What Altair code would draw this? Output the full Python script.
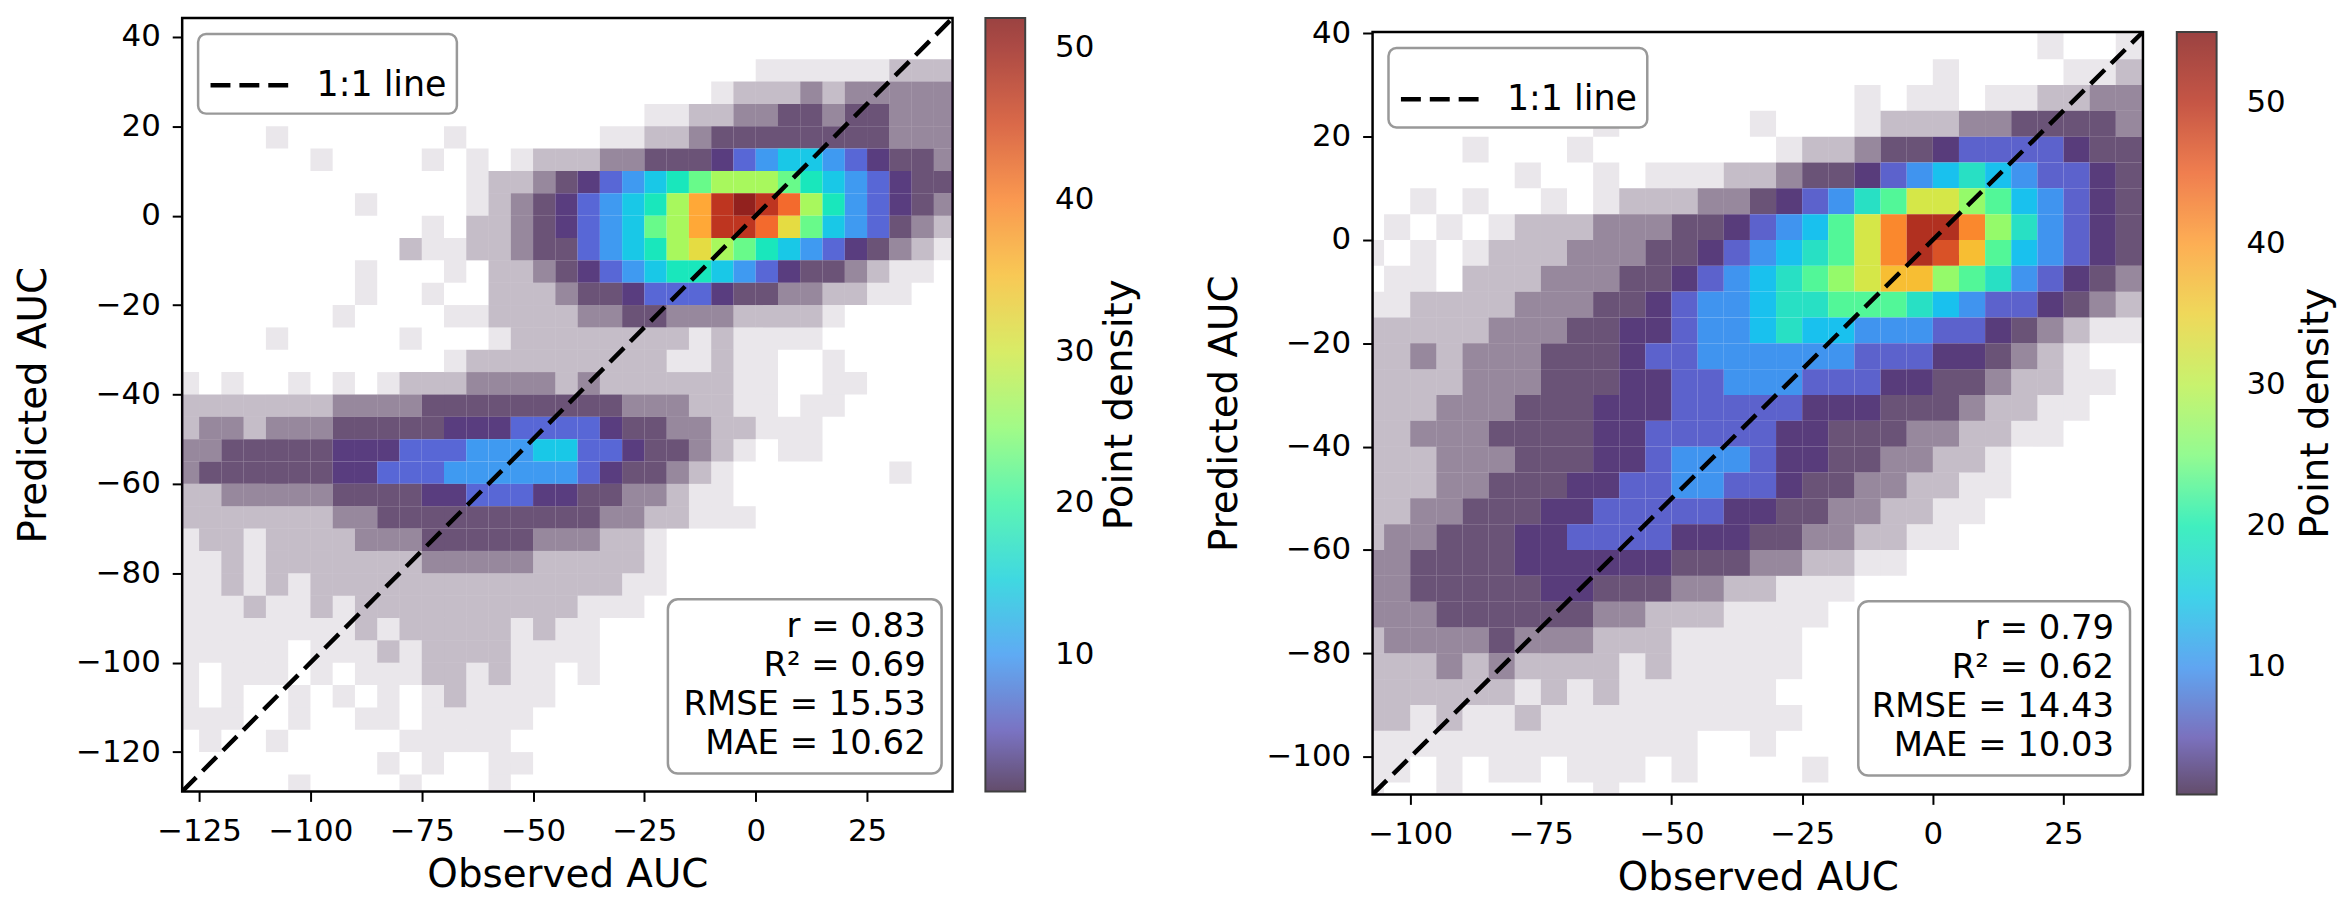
import altair as alt
import pandas as pd

FONT = "DejaVu Sans"
CELL = 5  # width of one density cell, in AUC units

# density level codes (blank = no points)
level_codes = list(".:-=123456789ABC")
level_density = [1, 1, 1, 1.5, 3, 6, 10, 14, 18, 22, 27, 32, 37, 42, 47, 51]
level_cover = [0.1, 0.28, 0.5, 0.74, 0.9, 0.9, 0.9, 0.9, 0.9, 0.9,
               0.9, 0.9, 0.9, 0.9, 0.9, 0.9]

# turbo colour stops (matplotlib-like), evenly spread over the colour bar
turbo_stops = ["#30123b", "#4558d4", "#2f9ef5", "#27d7c3", "#4ef983",
               "#96fa50", "#dfdc32", "#ffa323", "#f45c17", "#b82008",
               "#7a0403"]

# ---------------- left panel ----------------
left_x0 = -130
left_ytop = 45
left_rows = [
    "     " "     " "     " "     " "     " "     " "     ",
    "     " "     " "     " "     " "     " "     " "     ",
    "     " "     " "     " "     " "     " " ...." "..:::",
    "     " "     " "     " "     " "    ." ":::-:" "-----",
    "     " "     " "     " "     " " ..::" "--==-" "==---",
    "    ." "     " "  .  " "    ." ".::-=" "=====" "==---",
    "     " " .   " " . . " ".:::-" "-===1" "23443" "21==-",
    "     " "     " "   .:" ":-=12" "34567" "77654" "321==",
    "     " "   . " "   .:" "-=123" "4579B" "CBA75" "321=-",
    "     " "     " " . ::" "-=123" "4679B" "BA864" "32=-:",
    "     " "     " ":..::" "-==23" "45787" "65432" "1=-:.",
    "     " "   . " "  . :" ":-=12" "34554" "321==" "-:.. ",
    "     " "   . " " .  :" "::-==" "12221" "==--:" ":..  ",
    "     " "  .  " "  ..:" ":::--" "==---" "::::." "     ",
    "    ." "     " ".   ." ":::::" ":::.:" ".... " "     ",
    "     " "     " "  .::" ":::::" "::..:" "..  ." "     ",
    ". .  " ". . ." ":::--" "--:-:" ":::::" "..  ." ".    ",
    ":::::" "::---" "-====" "=====" "---::" ".. .." "     ",
    ":--:-" "--===" "==111" "22221" "==--:" ":... " "     ",
    "--===" "==111" "22233" "34422" "1==-:" ". .. " "     ",
    "-====" "==112" "22333" "33321" "==-:." "     " "  .  ",
    "::---" "--===" "=1122" "211==" "--:.." "     " "     ",
    ":::::" "::--=" "=====" "====-" "-::.." ".    " "     ",
    ".::.:" ":::--" "-====" "=---:" ":.   " "     " "     ",
    "..:.:" ":::::" ":----" "-::::" ":.   " "     " "     ",
    "..:.:" ".::::" ":::::" ":::::" "..   " "     " "     ",
    "...:." ".:.::" ":::::" ":::.." ".    " "     " "     ",
    "....." "...:." ":::::" ".:.. " "     " "     " "     ",
    "....." " ...:" ".::::" ".... " "     " "     " "     ",
    ". ..." " . .." ".::.:" ".. . " "     " "     " "     ",
    ". .  " ". . ." " .:.." "..   " "     " "     " "     ",
    "...  " ".  .." " ...." ".    " "     " "     " "     ",
    " .  ." "     " "....." "     " "     " "     " "     ",
    "     " "    ." " .  ." ".    " "     " "     " "     ",
    "     " ".    " ".   ." "     " "     " "     " "     ",
]
left_x_domain = [-128.8, 44.2]
left_y_domain = [-128.8, 44.2]
left_x_ticks = [-125, -100, -75, -50, -25, 0, 25]
left_y_ticks = [-120, -100, -80, -60, -40, -20, 0, 20, 40]
left_cbar_max = 52
left_stats = ["r = 0.83", "R\u00b2 = 0.69", "RMSE = 15.53", "MAE = 10.62"]

# ---------------- right panel ----------------
right_x0 = -110
right_ytop = 40
right_rows = [
    "     " "     " "     " "     " "     " " .  .",
    "     " "     " "     " "     " "  .  " "  ..:",
    "     " "     " "     " "    ." " .. ." ".::--",
    "     " "    ." "     " ".   ." ":::--" "====-",
    "    ." "   . " "     " " .::-" "==122" "221==",
    "     " " .  ." " ...:" ":-==1" "23454" "3221=",
    "  . ." "  . ." ":::--" "=1235" "68876" "4321=",
    " . . " ".:::-" "--==1" "23468" "ACCA7" "5321=",
    ". . ." ":::--" "-==12" "34568" "ACB96" "4321=",
    " .. :" "::---" "==123" "45678" "99765" "321=-",
    "..:::" ":---=" "=1233" "45566" "65432" "21=-:",
    ":::::" "---==" "11233" "45443" "33221" "=-:..",
    "::-:-" "--===" "12233" "33332" "2211=" "-:.  ",
    "::::-" "--===" "11223" "33222" "11==-" "::.. ",
    ":::--" "-===1" "11222" "22111" "===-:" ":..  ",
    "::---" "====1" "12222" "211==" "=--::" "..   ",
    ":::--" "-===1" "12333" "211==" "--::." "     ",
    ":::--" "===11" "22332" "21==-" "-::.." "     ",
    "::--=" "==112" "22221" "1==--" "::.. " "     ",
    ":--==" "=1122" "22111" "==--:" ":..  " "     ",
    "--===" "=1111" "11===" "--::." ".    " "     ",
    "--===" "==11=" "==--:" ":... " "     " "     ",
    "---==" "====-" "-:::." "...  " "     " "     ",
    ":----" "=---:" "::..." "..   " "     " "     ",
    ":::-:" "-::::" ".:..." "..   " "     " "     ",
    ":::::" ":.:.:" "....." ".    " "     " "     ",
    "::.:." ".:..." "....." "..   " "     " "     ",
    "....." "....." "...  " ".    " "     " "     ",
    ".. . " ".. .." ". .  " "  .  " "     " "     ",
    ".  . " "    ." "     " "     " "     " "     ",
]
right_x_domain = [-107.2, 40.2]
right_y_domain = [-107.3, 40.25]
right_x_ticks = [-100, -75, -50, -25, 0, 25]
right_y_ticks = [-100, -80, -60, -40, -20, 0, 20, 40]
right_cbar_max = 55
right_stats = ["r = 0.79", "R\u00b2 = 0.62", "RMSE = 14.43", "MAE = 10.03"]

cbar_ticks = [10, 20, 30, 40, 50]
cbar_title = "Point density"
line_label = "1:1 line"


def cells(rows, x0, ytop):
    recs = []
    for j, row in enumerate(rows):
        for k, ch in enumerate(row):
            if ch == " ":
                continue
            i = level_codes.index(ch)
            recs.append({
                "x0": x0 + CELL * k, "x1": x0 + CELL * (k + 1),
                "y1": ytop - CELL * j, "y0": ytop - CELL * (j + 1),
                "density": level_density[i], "cover": level_cover[i],
            })
    return pd.DataFrame(recs)


def panel(rows, x0, ytop, xdom, ydom, xticks, yticks, cmax, stats, w, h,
          cb_offset, box, cb_title_x):
    xs = alt.Scale(domain=xdom, nice=False, zero=False)
    ys = alt.Scale(domain=ydom, nice=False, zero=False)
    n = len(turbo_stops) - 1
    cdom = [1 + (cmax - 1) * i / n for i in range(n + 1)]
    heat = alt.Chart(cells(rows, x0, ytop)).mark_rect(clip=True).encode(
        x=alt.X("x0:Q", scale=xs,
                axis=alt.Axis(values=xticks, title="Observed AUC", format="d")),
        x2="x1:Q",
        y=alt.Y("y0:Q", scale=ys,
                axis=alt.Axis(values=yticks, title="Predicted AUC", format="d")),
        y2="y1:Q",
        color=alt.Color(
            "density:Q",
            scale=alt.Scale(domain=cdom, range=turbo_stops),
            legend=alt.Legend(
                title=None, orient="right", offset=cb_offset,
                direction="vertical", gradientLength=h, gradientThickness=40,
                gradientOpacity=0.75, gradientStrokeColor="black",
                gradientStrokeWidth=2, values=cbar_ticks, labelFontSize=31,
                labelFont=FONT, labelColor="black", labelOffset=30,
                labelOverlap=False,
            ),
        ),
        opacity=alt.Opacity("cover:Q", scale=None, legend=None),
    )
    line_df = pd.DataFrame({"x": xdom, "y": ydom, "label": [line_label] * 2})
    line = alt.Chart(line_df).mark_line(clip=True, strokeWidth=4.5,
                                         color="black").encode(
        x="x:Q", y="y:Q",
        strokeDash=alt.StrokeDash(
            "label:N",
            scale=alt.Scale(domain=[line_label], range=[[20, 9]]),
            legend=alt.Legend(
                title=None, orient="top-left", offset=16, padding=10,
                fillColor="white", strokeColor="#999999", cornerRadius=8,
                symbolType="stroke", symbolStrokeWidth=4.5,
                symbolStrokeColor="black", symbolSize=6084,
                labelFontSize=35, labelFont=FONT, labelColor="black",
                labelOffset=26,
            ),
        ),
    )
    one = pd.DataFrame({"k": [0]})
    bx0, bx1, by0, by1 = box
    frame = alt.Chart(one).mark_rect(
        fill="white", stroke="#999999", strokeWidth=2.5, cornerRadius=10
    ).encode(x=alt.value(bx0), x2=alt.value(bx1), y=alt.value(by0),
             y2=alt.value(by1))
    text = alt.Chart(one).mark_text(
        align="right", baseline="alphabetic", fontSize=34, font=FONT,
        lineHeight=39.3, color="black"
    ).encode(x=alt.value(bx1 - 16), y=alt.value(by0 + 38),
             text=alt.value(stats))
    cbt = alt.Chart(one).mark_text(
        align="center", baseline="middle", angle=270, fontSize=39,
        font=FONT, color="black"
    ).encode(x=alt.value(cb_title_x), y=alt.value(h / 2),
             text=alt.value(cbar_title))
    return alt.layer(heat, line, frame, text, cbt).properties(width=w, height=h)


left = panel(left_rows, left_x0, left_ytop, left_x_domain, left_y_domain,
             left_x_ticks, left_y_ticks, left_cbar_max, left_stats,
             774, 777, 33, (488, 763, 584, 759), 942)
right = panel(right_rows, right_x0, right_ytop, right_x_domain,
              right_y_domain, right_x_ticks, right_y_ticks, right_cbar_max,
              right_stats, 774, 766, 34, (488, 761, 572, 747), 948)

# small invisible strip that lowers the right panel as in the reference
spacer = alt.Chart(pd.DataFrame({"k": [0]})).mark_rect(opacity=0).encode(
    x=alt.value(0), x2=alt.value(1), y=alt.value(0), y2=alt.value(1)
).properties(width=774, height=1, view=alt.ViewBackground(strokeOpacity=0))

right_col = alt.vconcat(spacer, right, spacing=-3).resolve_scale(
    color="independent", strokeDash="independent",
).resolve_legend(
    color="independent", strokeDash="independent",
)

chart = alt.hconcat(left, right_col, spacing=62).resolve_scale(
    color="independent", strokeDash="independent",
).resolve_legend(
    color="independent", strokeDash="independent",
).properties(
    padding={"left": 5, "top": 6, "right": 5, "bottom": 5}
).configure_view(
    stroke="black", strokeWidth=2.5
).configure_axis(
    domain=False, grid=False, tickSize=10, tickWidth=2, tickColor="black",
    labelFont=FONT, labelFontSize=31, labelColor="black", labelPadding=12,
    titleFont=FONT, titleFontSize=39, titleFontWeight="normal",
    titleColor="black",
).configure_axisX(titlePadding=10, labelPadding=15).configure_axisY(
    titlePadding=22
).configure_legend(
    gradientVerticalMaxLength=1000, strokeWidth=2.5
)

chart.save("out.html", embed_options={"renderer": "svg", "actions": False})
